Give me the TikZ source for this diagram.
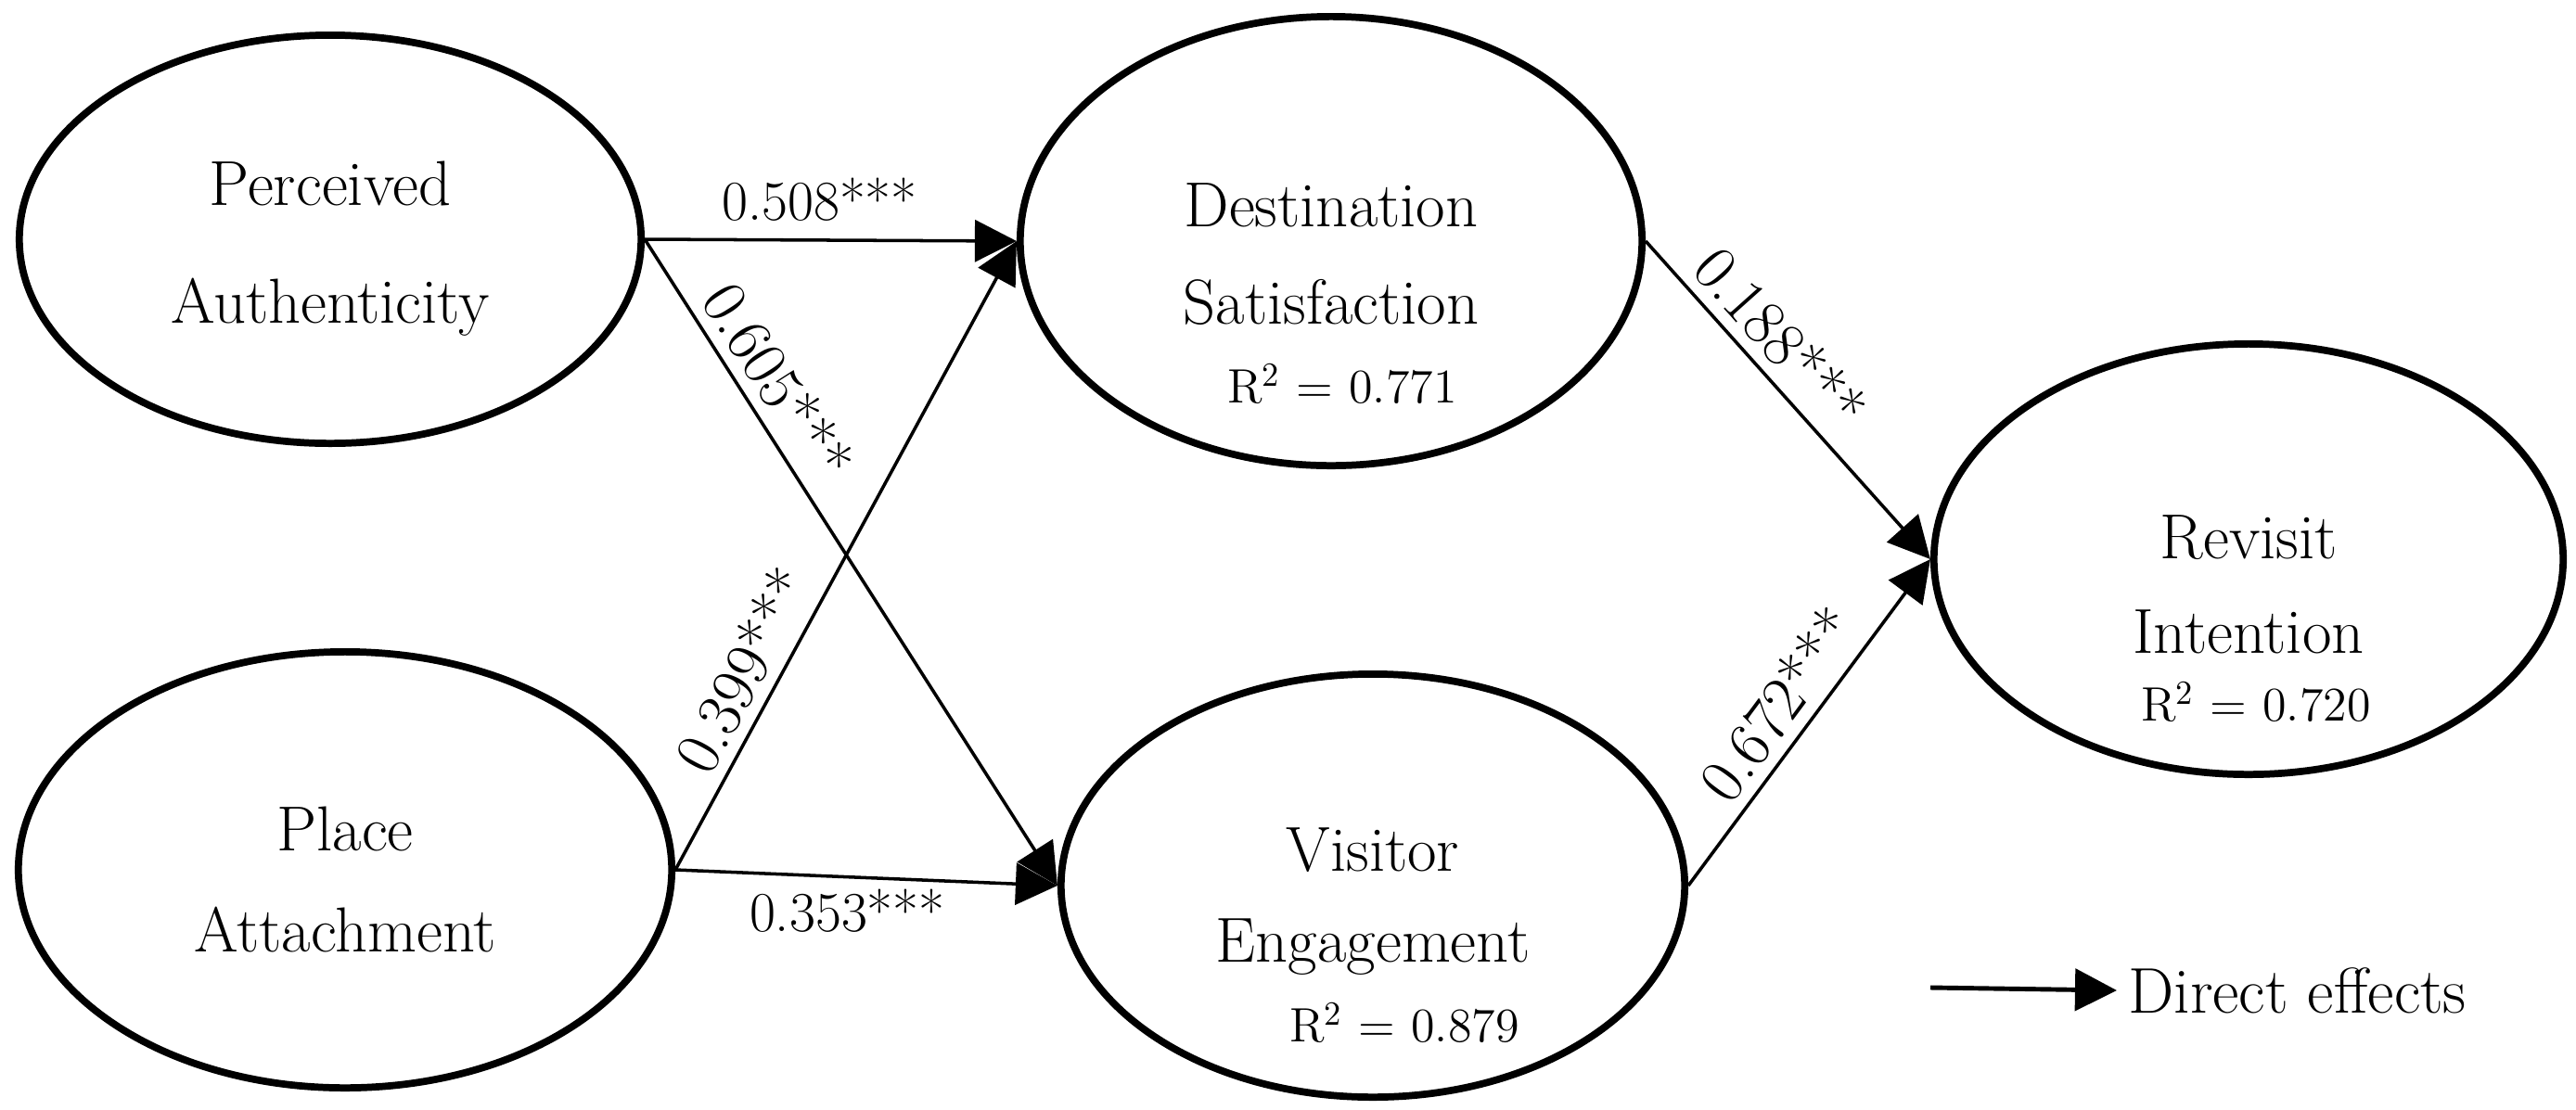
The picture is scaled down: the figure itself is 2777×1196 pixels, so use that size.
\documentclass[tikz,border=0pt]{standalone}
\usepackage{tikz}
\usetikzlibrary{arrows.meta, shapes.geometric}

\begin{document}
\begin{tikzpicture}[x=0.01cm, y=-0.01cm, line join=round,
        construct/.style={ellipse, draw, line width=2.2pt, inner sep=0pt},
        title/.style={align=center, font=\fontsize{19.5}{31}\selectfont},
        effect/.style={-{Triangle[length=0.45cm, width=0.45cm]}, line width=1pt},
        coef/.style={font=\fontsize{17.3}{19}\selectfont},
        slcoef/.style={font=\fontsize{19.5}{22}\selectfont, sloped, above},
        rsq/.style={font=\fontsize{14.8}{17}\selectfont}]

        % 그림 크기 고정
        \useasboundingbox (0,0) rectangle (2777,1196);

        % 잠재 변수 (Constructs)
        \node[construct, minimum width=6.70cm, minimum height=4.40cm] (pa) at (356,258) {};
        \node[construct, minimum width=7.04cm, minimum height=4.70cm] (pla) at (372,938) {};
        \node[construct, minimum width=6.70cm, minimum height=4.84cm] (ds) at (1435,260) {};
        \node[construct, minimum width=6.72cm, minimum height=4.56cm] (ve) at (1480,955) {};
        \node[construct, minimum width=6.78cm, minimum height=4.64cm] (ri) at (2424,603) {};

        % 변수 이름
        \node[title] (patxt) at (356,268) {Perceived\\[5pt]Authenticity};
        \node[title] (platxt) at (372,948) {Place\\Attachment};
        \node[title] (dstxt) at (1435,274) {Destination\\[-1pt]Satisfaction};
        \node[title] (vetxt) at (1480,972) {Visitor\\[-3pt]Engagement};
        \node[title] (ritxt) at (2424,630) {Revisit\\[-2pt]Intention};

        % 결정계수
        \node[rsq] (dsr) at (1447,414) {R\textsuperscript{2} = 0.771};
        \node[rsq] (ver) at (1514,1103) {R\textsuperscript{2} = 0.879};
        \node[rsq] (rir) at (2432,757) {R\textsuperscript{2} = 0.720};

        % 경로 계수 (Direct effects)
        \draw[effect] (pa.east) -- (ds.west) node[coef, pos=0.47, above=2pt] (pads) {0.508***};
        \draw[effect] (pa.east) -- (ve.west) node[slcoef, pos=0.25] (pave) {0.605***};
        \draw[effect] (pla.east) -- (ds.west) node[slcoef, pos=0.29] (plads) {0.399***};
        \draw[effect] (pla.east) -- (ve.west) node[coef, pos=0.45, below] (plave) {0.353***};
        \draw[effect] (ds.east) -- (ri.west) node[slcoef, pos=0.38] (dsri) {0.188***};
        \draw[effect] (ve.east) -- (ri.west) node[slcoef, pos=0.49] (veri) {0.672***};

        % 범례
        \coordinate (legtail) at (2081,1065);
        \node[anchor=west, font=\fontsize{19.8}{22}\selectfont] (legend) at (2282,1068) {Direct effects};
        \draw[effect, line width=1.4pt] (legtail) -- (legend.west);

    \end{tikzpicture}
\end{document}
